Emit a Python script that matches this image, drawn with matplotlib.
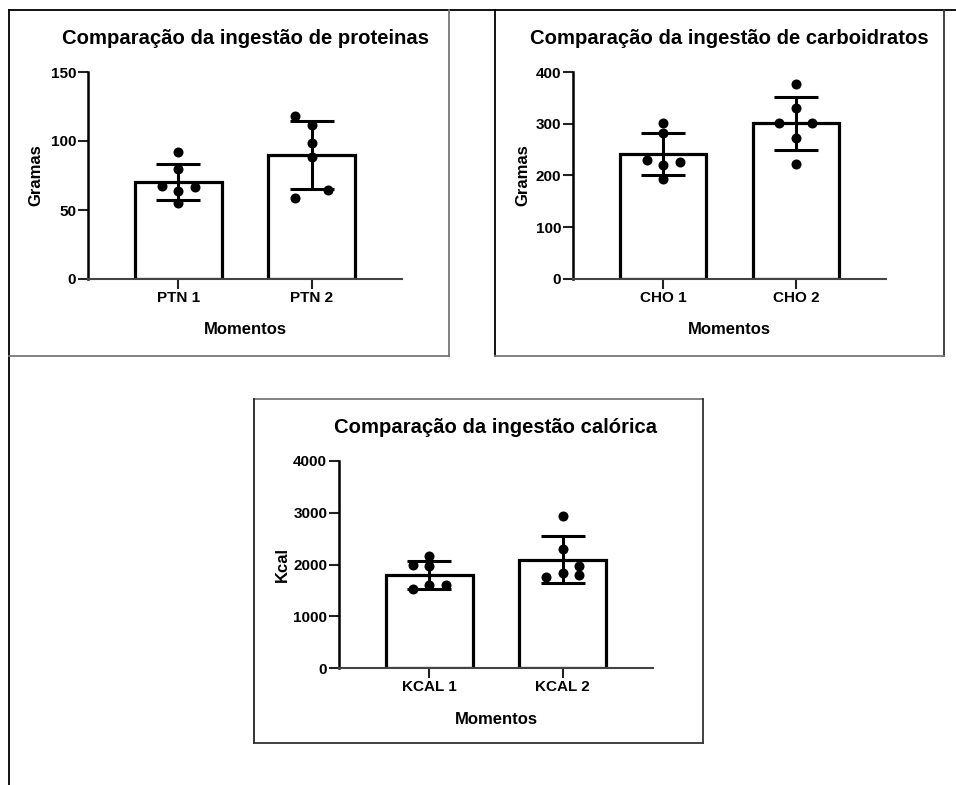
import numpy as np
import matplotlib.pyplot as plt
from matplotlib.lines import Line2D

plt.rcParams['font.family'] = ['Liberation Sans', 'DejaVu Sans']
plt.rcParams['font.weight'] = 'bold'

W, H = 956, 785

# dados
titulos = ["Comparação da ingestão de proteinas",
           "Comparação da ingestão de carboidratos",
           "Comparação da ingestão calórica"]
ylabels = ["Gramas", "Gramas", "Kcal"]
categorias = [["PTN 1", "PTN 2"], ["CHO 1", "CHO 2"], ["KCAL 1", "KCAL 2"]]
medias = [[70, 90], [242, 301], [1790, 2095]]
desvios = [[13, 24.5], [41, 51], [270, 460]]
yticks = [[0, 50, 100, 150], [0, 100, 200, 300, 400], [0, 1000, 2000, 3000, 4000]]

ptn1 = [92, 79.5, 67.5, 67, 64, 55]
ptn2 = [118, 111.5, 98.5, 88.5, 64.5, 59]
cho1 = [301, 283, 229, 226, 220, 194]
cho2 = [376, 330, 302, 302, 272, 223]
kcal1 = [2160, 2000, 1970, 1610, 1600, 1520]
kcal2 = [2940, 2290, 1980, 1840, 1790, 1750]
pontos = [[ptn1, ptn2], [cho1, cho2], [kcal1, kcal2]]

# deslocamento horizontal dos pontos (-1 esquerda, 0 centro, 1 direita)
lados = [[[0, 0, -1, 1, 0, 0], [-1, 0, 0, 0, 1, -1]],
         [[0, 0, -1, 1, 0, 0], [0, 0, -1, 1, 0, 0]],
         [[0, -1, 0, 0, 1, -1], [0, 0, 1, 0, 1, -1]]]

# caixas dos eixos em pixels: esquerda, direita, topo, base
caixas = [(88, 402, 72, 279), (573, 886, 72, 279), (339, 653, 461, 668)]
ylab_dist = [52, 50, 57]


def fx(px):
    return px / W


def fy(py):
    return 1 - py / H


fig = plt.figure(figsize=(W / 100, H / 100), dpi=100)

for i in range(3):
    l, r, t, b = caixas[i]
    ax = fig.add_axes([fx(l), fy(b), (r - l) / W, (b - t) / H])
    x = np.arange(2)
    ax.bar(x, medias[i], width=0.65, color='white', edgecolor='black',
           linewidth=2.3, zorder=2)
    ax.errorbar(x, medias[i], yerr=desvios[i], fmt='none', ecolor='black',
                elinewidth=2.2, capsize=16, capthick=2.2, zorder=3)
    for j in range(2):
        xs = j + 0.125 * np.array(lados[i][j])
        ax.scatter(xs, pontos[i][j], s=52, color='black', zorder=4,
                   linewidths=0)
    ax.set_xlim(-0.68, 1.68)
    ax.set_ylim(0, yticks[i][-1])
    ax.set_yticks(yticks[i])
    ax.set_xticks(x)
    ax.set_xticklabels(categorias[i])
    ax.tick_params(axis='both', length=7, width=1.5, pad=1.5, labelsize=11,
                   color='#222222')
    for lab in ax.get_xticklabels() + ax.get_yticklabels():
        lab.set_fontweight('bold')
    ax.spines['top'].set_visible(False)
    ax.spines['right'].set_visible(False)
    ax.spines['left'].set_linewidth(1.8)
    ax.spines['left'].set_color('black')
    ax.spines['bottom'].set_linewidth(1.5)
    ax.spines['bottom'].set_color('#444444')
    ax.set_title(titulos[i], fontsize=14.6, fontweight='bold', pad=20)
    fig.text(fx((l + r) / 2), fy(b + 51), "Momentos", ha='center',
             va='center', fontsize=12, fontweight='bold')
    fig.text(fx(l - ylab_dist[i]), fy((t + b) / 2), ylabels[i], ha='center',
             va='center', rotation=90, fontsize=12, fontweight='bold')

# molduras das figuras
linhas = [
    ((9, 956), (10, 10), 'black'),
    ((9, 9), (10, 785), 'black'),
    ((449, 449), (10, 356), '#777777'),
    ((9, 449), (356, 356), '#777777'),
    ((495, 495), (10, 356), 'black'),
    ((944, 944), (10, 356), '#333333'),
    ((495, 944), (356, 356), '#777777'),
    ((254, 703), (399, 399), '#777777'),
    ((254, 254), (399, 743), '#222222'),
    ((703, 703), (399, 743), '#333333'),
    ((254, 703), (743, 743), '#333333'),
]
for xs, ys, c in linhas:
    fig.add_artist(Line2D([fx(v) for v in xs], [fy(v) for v in ys],
                          color=c, linewidth=1.3))

fig.savefig("out.png", dpi=100)
